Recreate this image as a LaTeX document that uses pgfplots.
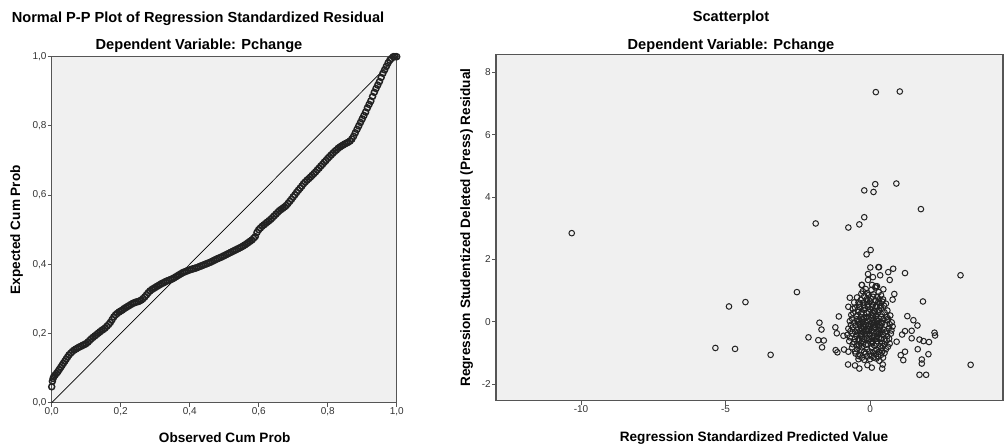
\documentclass[border=0pt]{standalone}
\usepackage{pgfplots}
\pgfplotsset{compat=1.18}
\usepackage{fontspec}
\setmainfont{Liberation Sans}

\definecolor{bgcol}{HTML}{F0F0F0}
\definecolor{framecol}{HTML}{555555}
\definecolor{ticktext}{HTML}{333333}
\definecolor{markcol}{HTML}{222222}

\pgfplotstableread{
x y
0.000 0.046
0.002 0.062
0.004 0.070
0.006 0.075
0.010 0.080
0.014 0.085
0.018 0.090
0.022 0.096
0.026 0.102
0.030 0.108
0.034 0.114
0.038 0.120
0.042 0.126
0.046 0.132
0.050 0.138
0.055 0.143
0.060 0.148
0.065 0.152
0.070 0.155
0.075 0.158
0.080 0.161
0.085 0.163
0.090 0.166
0.095 0.168
0.100 0.171
0.105 0.175
0.110 0.180
0.115 0.185
0.120 0.189
0.125 0.193
0.130 0.197
0.135 0.201
0.140 0.205
0.145 0.209
0.150 0.212
0.155 0.216
0.160 0.221
0.165 0.226
0.170 0.232
0.175 0.240
0.180 0.248
0.185 0.254
0.190 0.258
0.195 0.262
0.200 0.265
0.205 0.268
0.210 0.272
0.215 0.275
0.220 0.278
0.225 0.281
0.230 0.284
0.235 0.287
0.240 0.289
0.245 0.291
0.250 0.292
0.255 0.294
0.260 0.297
0.265 0.301
0.270 0.306
0.275 0.312
0.280 0.318
0.285 0.323
0.290 0.327
0.295 0.330
0.300 0.333
0.305 0.336
0.310 0.339
0.315 0.342
0.320 0.345
0.325 0.347
0.330 0.350
0.335 0.352
0.340 0.354
0.345 0.356
0.350 0.358
0.355 0.361
0.360 0.364
0.365 0.367
0.370 0.370
0.375 0.373
0.380 0.376
0.385 0.378
0.390 0.380
0.395 0.382
0.400 0.384
0.405 0.3855
0.410 0.387
0.415 0.3885
0.420 0.390
0.425 0.392
0.430 0.394
0.435 0.396
0.440 0.398
0.445 0.400
0.450 0.402
0.455 0.404
0.460 0.406
0.465 0.4085
0.470 0.411
0.475 0.4135
0.480 0.416
0.485 0.418
0.490 0.420
0.495 0.4225
0.500 0.425
0.505 0.4275
0.510 0.430
0.515 0.4325
0.520 0.435
0.525 0.4375
0.530 0.440
0.535 0.4425
0.540 0.445
0.545 0.4475
0.550 0.450
0.555 0.453
0.560 0.456
0.565 0.4595
0.570 0.463
0.575 0.4665
0.580 0.470
0.585 0.475
0.590 0.480
0.595 0.492
0.600 0.500
0.605 0.505
0.610 0.510
0.615 0.514
0.620 0.518
0.625 0.522
0.630 0.526
0.635 0.530
0.640 0.535
0.645 0.540
0.650 0.545
0.655 0.550
0.660 0.555
0.665 0.5585
0.670 0.562
0.675 0.566
0.680 0.570
0.685 0.576
0.690 0.582
0.695 0.588
0.700 0.595
0.705 0.601
0.710 0.608
0.715 0.614
0.720 0.620
0.725 0.626
0.730 0.633
0.735 0.638
0.740 0.643
0.745 0.6475
0.750 0.652
0.755 0.657
0.760 0.662
0.765 0.667
0.770 0.673
0.775 0.678
0.780 0.684
0.785 0.689
0.790 0.695
0.795 0.700
0.800 0.706
0.805 0.711
0.810 0.716
0.815 0.721
0.820 0.726
0.825 0.730
0.830 0.735
0.835 0.7385
0.840 0.742
0.845 0.745
0.850 0.748
0.855 0.7505
0.860 0.753
0.865 0.7565
0.870 0.762
0.875 0.770
0.880 0.780
0.885 0.790
0.890 0.800
0.895 0.810
0.900 0.820
0.905 0.830
0.910 0.840
0.915 0.852
0.920 0.862
0.925 0.872
0.930 0.885
0.935 0.897
0.940 0.908
0.945 0.918
0.950 0.928
0.955 0.940
0.960 0.952
0.965 0.962
0.970 0.972
0.975 0.982
0.980 0.990
0.985 0.995
0.990 1.000
0.995 1.000
1.000 1.000
}\pptable

% predicted value vs studentized deleted residual
\pgfplotstableread{
x y
0.20 7.36
1.03 7.38
0.18 4.41
0.91 4.43
-0.20 4.21
0.12 4.16
1.76 3.61
-1.88 3.15
-0.20 3.35
-0.37 3.12
-0.75 3.02
-10.32 2.84
0.02 2.30
-0.12 2.16
3.13 1.49
-2.53 0.95
-4.31 0.63
-4.88 0.49
-5.35 -0.84
-4.67 -0.87
-3.44 -1.06
-2.13 -0.50
3.48 -1.38
1.71 -1.70
1.94 -1.70
1.83 0.65
1.21 1.56
0.80 1.70
0.63 1.59
0.68 1.34
0.29 1.75
0.01 1.74
0.35 1.49
0.31 1.75
-0.07 1.53
-0.28 1.18
0.07 1.18
0.24 1.14
-0.07 1.34
0.10 1.43
-1.75 -0.03
-1.68 -0.25
-1.79 -0.59
-1.60 -0.60
-1.66 -0.82
-1.08 0.17
-1.20 -0.18
-1.15 -0.37
-0.92 -0.45
-1.19 -0.91
-1.13 -0.98
-0.90 -0.89
-0.75 -0.96
-0.76 -1.37
-0.52 -1.40
-0.37 -1.50
-0.09 -1.39
0.06 -1.47
0.44 -1.37
0.42 -1.50
1.29 0.18
1.50 0.05
1.64 -0.12
1.44 -0.29
1.21 -0.30
1.11 -0.41
1.44 -0.53
1.71 -0.57
1.85 -0.62
2.04 -0.65
2.23 -0.35
2.25 -0.44
1.65 -0.88
2.02 -1.04
1.21 -0.96
1.06 -1.07
1.15 -1.23
1.79 -1.21
1.79 -1.34
0.92 -0.64
0.84 0.89
0.78 0.71
0.46 1.04
0.20 1.14
-0.29 1.18
-0.70 0.77
-0.75 0.48
-0.25 0.98
0.05 1.02
0.30 0.95
-0.10 0.92
0.18 1.10
-0.45 0.78
-0.20 0.82
0.02 0.75
0.25 0.80
0.45 0.72
-0.32 0.70
0.12 0.88
-0.55 0.62
-0.35 0.58
-0.10 0.65
0.10 0.55
0.32 0.60
0.55 0.58
-0.22 0.52
0.20 0.68
-0.60 0.42
-0.42 0.38
-0.18 0.45
0.00 0.40
0.15 0.35
0.38 0.44
0.60 0.36
-0.30 0.30
0.28 0.30
-0.05 0.32
-0.65 0.22
-0.48 0.18
-0.30 0.24
-0.12 0.15
0.05 0.22
0.22 0.18
0.40 0.25
0.58 0.15
0.70 0.20
-0.20 0.10
0.12 0.08
0.32 0.10
-0.70 0.02
-0.55 -0.03
-0.40 0.05
-0.25 -0.02
-0.08 0.03
0.08 -0.04
0.25 0.02
0.42 -0.05
0.60 0.04
0.75 -0.02
-0.15 -0.10
0.18 -0.10
0.35 -0.12
-0.35 -0.12
-0.75 -0.22
-0.60 -0.18
-0.45 -0.25
-0.30 -0.20
-0.15 -0.24
0.00 -0.18
0.15 -0.22
0.30 -0.18
0.48 -0.25
0.65 -0.20
0.78 -0.15
-0.05 -0.30
0.22 -0.32
-0.22 -0.33
0.40 -0.34
-0.78 -0.42
-0.62 -0.38
-0.48 -0.45
-0.32 -0.40
-0.18 -0.44
-0.02 -0.38
0.12 -0.45
0.28 -0.40
0.45 -0.42
0.60 -0.46
0.72 -0.38
-0.10 -0.52
0.20 -0.55
-0.40 -0.55
0.38 -0.55
-0.72 -0.62
-0.55 -0.65
-0.38 -0.60
-0.22 -0.66
-0.05 -0.60
0.10 -0.65
0.25 -0.62
0.42 -0.68
0.58 -0.60
0.68 -0.70
-0.15 -0.74
0.15 -0.76
-0.45 -0.75
0.35 -0.78
-0.62 -0.82
-0.45 -0.88
-0.28 -0.82
-0.10 -0.88
0.05 -0.82
0.22 -0.90
0.40 -0.84
0.55 -0.88
-0.20 -0.96
0.10 -0.98
0.30 -0.97
-0.50 -1.02
-0.35 -1.06
-0.15 -1.02
0.02 -1.08
0.20 -1.04
0.38 -1.06
0.50 -1.00
-0.28 -1.15
0.12 -1.15
-0.40 -1.20
-0.20 -1.22
0.00 -1.20
0.22 -1.18
0.32 -1.25
-0.36 -0.08
-0.26 0.08
-0.04 -0.12
0.04 0.12
0.14 -0.02
0.30 -0.05
-0.12 -0.40
0.06 -0.30
0.24 -0.48
-0.28 -0.50
0.02 -0.55
-0.20 0.38
0.08 0.48
0.18 0.30
-0.08 0.55
0.35 0.50
0.28 -0.28
-0.34 -0.30
0.10 -0.12
-0.16 0.00
0.46 0.08
-0.46 0.08
0.52 -0.35
-0.52 -0.32
0.00 0.65
-0.12 0.72
0.32 0.72
-0.06 0.85
0.05 -0.70
-0.32 -0.70
0.50 -0.72
-0.52 0.45
-0.38 0.48
-0.08 0.48
0.22 0.50
0.48 0.52
-0.58 0.28
-0.40 0.32
-0.12 0.28
0.08 0.30
0.30 0.38
0.50 0.30
-0.62 0.10
-0.32 0.14
-0.05 0.10
0.22 0.08
0.38 0.16
0.62 0.10
-0.66 -0.10
-0.50 -0.12
-0.25 -0.12
0.02 -0.08
0.26 -0.10
0.52 -0.10
0.68 -0.08
-0.68 -0.30
-0.42 -0.35
-0.12 -0.30
0.12 -0.34
0.36 -0.26
0.58 -0.30
0.74 -0.28
-0.70 -0.50
-0.52 -0.55
-0.20 -0.55
0.08 -0.50
0.30 -0.52
0.50 -0.55
0.66 -0.54
-0.60 -0.72
-0.38 -0.78
-0.08 -0.72
0.22 -0.70
0.45 -0.78
0.62 -0.80
-0.52 -0.95
-0.30 -0.92
-0.02 -0.95
0.18 -0.94
0.42 -0.95
-0.40 -1.10
-0.10 -1.12
0.28 -1.12
0.45 -1.15
-0.22 0.62
0.05 0.58
0.28 0.62
-0.40 0.62
0.42 0.65
-0.30 0.90
0.10 0.80
0.38 0.85
-0.15 1.05
0.00 -0.40
-0.22 -0.18
0.18 -0.16
0.40 -0.02
-0.42 -0.02
0.10 0.18
-0.10 -0.22
0.32 -0.38
-0.30 -0.40
0.05 -0.62
-0.28 -0.62
}\scattertable

\begin{document}
\begin{tikzpicture}[x=1pt,y=1pt]
\path[use as bounding box] (0,0) rectangle (1004,446);

\pgfplotsset{
  spss/.style={
    scale only axis,
    axis background/.style={fill=bgcol},
    axis line style={draw=framecol, line width=1.2pt},
    tick align=outside,
    xtick pos=bottom, ytick pos=left,
    major tick length=4pt,
    tick style={draw=framecol, line width=0.9pt},
    ticklabel style={font=\fontsize{10}{12}\selectfont, text=ticktext, inner sep=1pt},
    /pgf/number format/assume math mode=true,
  }
}

% ---- left: normal P-P plot
\begin{axis}[spss,
  at={(51.7pt,43.3pt)}, anchor=south west,
  width=345pt, height=346pt,
  xmin=0, xmax=1, ymin=0, ymax=1,
  xtick={0,0.2,...,1.0}, ytick={0,0.2,...,1.0},
  /pgf/number format/.cd, use comma, fixed, fixed zerofill, precision=1,
  /pgfplots/.cd,
  clip=false,
]
\addplot[black, line width=0.7pt] coordinates {(0,0) (1,1)};
\addplot[only marks, mark=o, mark size=3pt, mark options={draw=markcol, line width=1.5pt}] table[x=x, y=y] {\pptable};
\end{axis}

% ---- right: scatterplot
\begin{axis}[spss,
  at={(496pt,45.3pt)}, anchor=south west,
  width=507pt, height=346pt,
  xmin=-12.94, xmax=4.6, ymin=-2.53, ymax=8.56,
  xtick={-10,-5,0}, ytick={-2,0,2,4,6,8},
]
\addplot[only marks, mark=o, mark size=2.8pt, mark options={draw=markcol, line width=1.0pt}] table[x=x, y=y] {\scattertable};
\end{axis}

% titles and axis labels
\node[anchor=base, font=\bfseries\fontsize{14.6}{17}\selectfont] at (198,423.5) {Normal P-P Plot of Regression Standardized Residual};
\node[anchor=base, font=\bfseries\fontsize{14.6}{17}\selectfont] at (199,396) {Dependent Variable: Pchange};
\node[anchor=base, font=\bfseries\fontsize{14.6}{17}\selectfont] at (731,424.3) {Scatterplot};
\node[anchor=base, font=\bfseries\fontsize{14.6}{17}\selectfont] at (731,396) {Dependent Variable: Pchange};
\node[anchor=base, font=\bfseries\fontsize{13.6}{16}\selectfont] at (224.7,3) {Observed Cum Prob};
\node[anchor=base, font=\bfseries\fontsize{13.6}{16}\selectfont] at (754,4.3) {Regression Standardized Predicted Value};
\node[anchor=base, rotate=90, font=\bfseries\fontsize{13.6}{16}\selectfont] at (20,216.3) {Expected Cum Prob};
\node[anchor=base, rotate=90, font=\bfseries\fontsize{13.6}{16}\selectfont] at (470,218.3) {Regression Studentized Deleted (Press) Residual};
\end{tikzpicture}
\end{document}
